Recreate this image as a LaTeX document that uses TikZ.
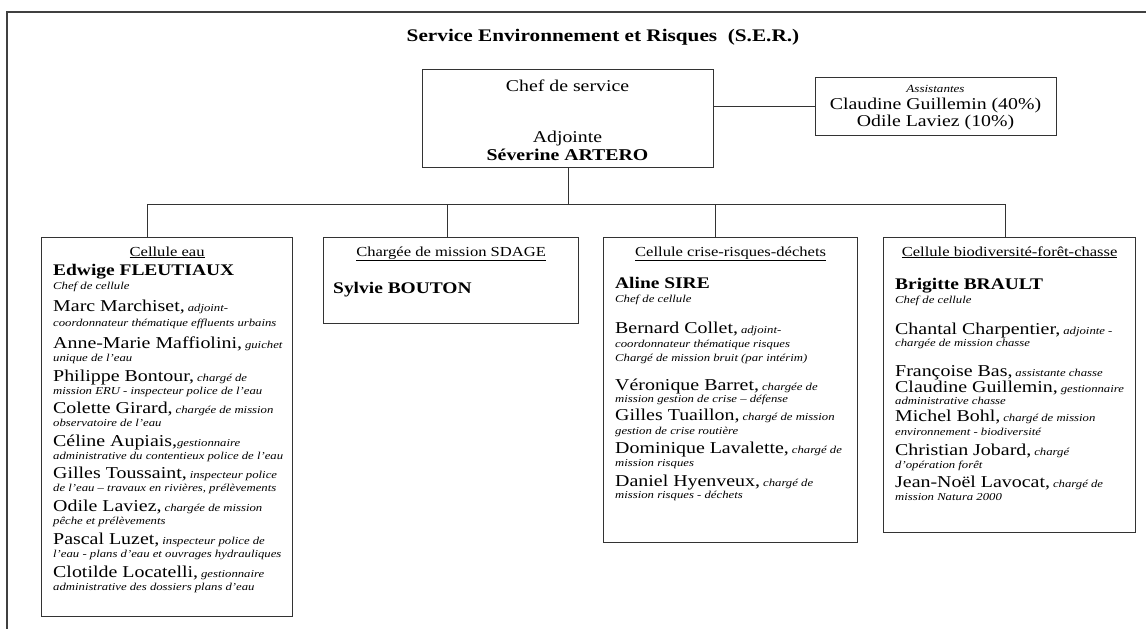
\documentclass[tikz,border=0pt]{standalone}
\usepackage{fontspec}
\setmainfont{Liberation Serif}[FakeStretch=1.2]

\newcommand{\nm}[1]{{\fontsize{16.6}{18}\selectfont #1}}
\newcommand{\bn}[1]{{\fontsize{16.2}{18}\selectfont\bfseries #1}}
\newcommand{\ds}[1]{{\fontsize{10.6}{13}\selectfont\itshape #1}}

\tikzset{
  box/.style={draw=black!80, line width=1.2pt, inner sep=0pt, anchor=north west},
  link/.style={draw=black!80, line width=1pt},
  head/.style={font=\fontsize{13.8}{16}\selectfont, inner sep=0pt, anchor=base},
  txt/.style={inner sep=0pt, anchor=base west},
  big/.style={font=\fontsize{16.5}{18}\selectfont, inner sep=0pt, anchor=base}
}

\begin{document}
\begin{tikzpicture}[x=1pt,y=-1pt]
\useasboundingbox (0,0) rectangle (1146,629);
\draw [line width=1.5pt, black!75] (7,629) -- (7,12) -- (1146,12);
\node [font=\fontsize{17.7}{20}\selectfont\bfseries] (titre) at (603,37) {Service Environnement et Risques\ \ (S.E.R.)};
%
\node [box, minimum width=291pt, minimum height=98pt] (chef) at (422,69) {};
\node [box, minimum width=241pt, minimum height=58pt] (assist) at (815,77) {};
\node [big] (chef-1) at (567.5,91) {Chef de service};
\node [big] (chef-2) at (567.5,142) {Adjointe};
\node [big, font=\fontsize{16.5}{18}\selectfont\bfseries] (chef-3) at (567.5,160) {Séverine ARTERO};
\node [inner sep=0pt, anchor=base] (assist-1) at (935.5,92) {\fontsize{10.9}{12}\selectfont\itshape Assistantes};
\node [big] (assist-2) at (935.5,109) {Claudine Guillemin (40\%)};
\node [big] (assist-3) at (935.5,126) {Odile Laviez (10\%)};
%
\node [box, minimum width=251pt, minimum height=379pt] (eau) at (41,237) {};
\node [box, minimum width=255pt, minimum height=86pt] (sdage) at (323,237) {};
\node [box, minimum width=254pt, minimum height=305pt] (crise) at (603,237) {};
\node [box, minimum width=252pt, minimum height=295pt] (bio) at (883,237) {};
%
\coordinate (d1) at (147,204);
\coordinate (d2) at (447,204);
\coordinate (d3) at (715,204);
\coordinate (d4) at (1005,204);
\draw [link] (chef.east |- assist.west) -- (assist.west);
\draw [link] (chef.south) -- (chef.south |- d1);
\draw [link] (d1) -- (d4);
\draw [link] (d1) -- (d1 |- eau.north);
\draw [link] (d2) -- (d2 |- sdage.north);
\draw [link] (d3) -- (d3 |- crise.north);
\draw [link] (d4) -- (d4 |- bio.north);
%
\node [head] (eau-h) at (eau.north |- 0,256) {\underline{Cellule eau}};
\node [head] (sdage-h) at (sdage.north |- 0,256) {\underline{Chargée de mission SDAGE}};
\node [head] (crise-h) at (crise.north |- 0,256) {\underline{Cellule crise-risques-déchets}};
\node [head] (bio-h) at (bio.north |- 0,256) {\underline{Cellule biodiversité-forêt-chasse}};
%
\foreach \y/\t [count=\i] in {
  {275/\bn{Edwige FLEUTIAUX}},
  {289/\ds{Chef de cellule}},
  {311/\nm{Marc Marchiset,} \ds{adjoint-}},
  {326/\ds{coordonnateur thématique effluents urbains}},
  {348/\nm{Anne-Marie Maffiolini,} \ds{guichet}},
  {361/\ds{unique de l'eau}},
  {381/\nm{Philippe Bontour,} \ds{chargé de}},
  {394/\ds{mission ERU - inspecteur police de l'eau}},
  {413/\nm{Colette Girard,} \ds{chargée de mission}},
  {426/\ds{observatoire de l'eau}},
  {446/\nm{Céline Aupiais,}\ds{gestionnaire}},
  {459/\ds{administrative du contentieux police de l'eau}},
  {478/\nm{Gilles Toussaint,} \ds{inspecteur police}},
  {491/\ds{de l'eau – travaux en rivières, prélèvements}},
  {511/\nm{Odile Laviez,} \ds{chargée de mission}},
  {524/\ds{pêche et prélèvements}},
  {544/\nm{Pascal Luzet,} \ds{inspecteur police de}},
  {557/\ds{l'eau - plans d'eau et ouvrages hydrauliques}},
  {577/\nm{Clotilde Locatelli,} \ds{gestionnaire}},
  {590/\ds{administrative des dossiers plans d'eau}}}
  \node [txt] (eau-\i) at (53,\y) {\t};
%
\node [txt] (sdage-1) at (333,293) {\bn{Sylvie BOUTON}};
%
\foreach \y/\t [count=\i] in {
  {288/\bn{Aline SIRE}},
  {302/\ds{Chef de cellule}},
  {333/\nm{Bernard Collet,} \ds{adjoint-}},
  {347/\ds{coordonnateur thématique risques}},
  {361/\ds{Chargé de mission bruit (par intérim)}},
  {390/\nm{Véronique Barret,} \ds{chargée de}},
  {402/\ds{mission gestion de crise – défense}},
  {420/\nm{Gilles Tuaillon,} \ds{chargé de mission}},
  {434/\ds{gestion de crise routière}},
  {453/\nm{Dominique Lavalette,} \ds{chargé de}},
  {466/\ds{mission risques}},
  {486/\nm{Daniel Hyenveux,} \ds{chargé de}},
  {498/\ds{mission risques - déchets}}}
  \node [txt] (crise-\i) at (615,\y) {\t};
%
\foreach \y/\t [count=\i] in {
  {289/\bn{Brigitte BRAULT}},
  {303/\ds{Chef de cellule}},
  {334/\nm{Chantal Charpentier,} \ds{adjointe -}},
  {346/\ds{chargée de mission chasse}},
  {376/\nm{Françoise Bas,} \ds{assistante chasse}},
  {392/\nm{Claudine Guillemin,} \ds{gestionnaire}},
  {404/\ds{administrative chasse}},
  {421/\nm{Michel Bohl,} \ds{chargé de mission}},
  {435/\ds{environnement - biodiversité}},
  {455/\nm{Christian Jobard,} \ds{chargé}},
  {468/\ds{d'opération forêt}},
  {487/\nm{Jean-Noël Lavocat,} \ds{chargé de}},
  {500/\ds{mission Natura 2000}}}
  \node [txt] (bio-\i) at (895,\y) {\t};
%
\end{tikzpicture}
\end{document}
